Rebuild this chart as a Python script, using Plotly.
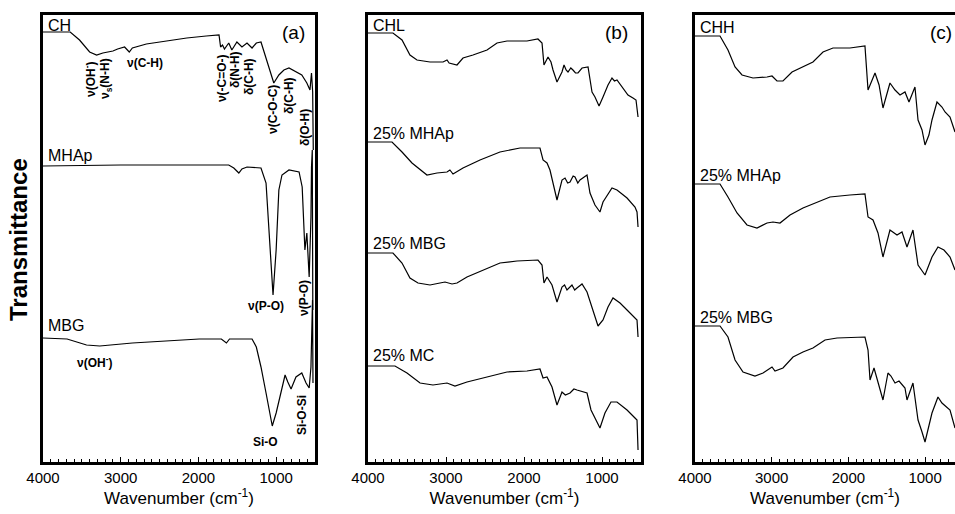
import plotly.graph_objects as go

# ---------------- data (wavenumber in cm-1, transmittance in a.u., stacked) -------------
# Panel (a)
ch_wn = [4000, 3650, 3530, 3400, 3310, 3230, 3100, 3040, 2950, 2890, 2850, 2670, 2410, 2150, 1900,
         1735, 1715, 1690, 1665, 1610, 1570, 1505, 1440, 1375, 1310, 1255, 1195, 1155, 1090, 1030,
         965, 900, 835, 745, 670, 605, 565, 545, 530, 522]
ch_t = [430, 430, 422, 410, 407, 409, 411, 413, 415, 410, 414, 418, 421, 424, 426,
        427, 415, 417, 413, 419, 412, 420, 415, 419, 414, 419, 420, 410, 392, 379,
        387, 392, 394, 390, 387, 379, 372, 389, 370, 312]

mhap_wn = [4000, 3000, 2000, 1610, 1545, 1480, 1440, 1375, 1195, 1130, 1090, 1040, 1000, 965, 925,
           835, 705, 665, 630, 605, 575, 552, 545, 535, 528]
mhap_t = [296, 297, 297, 297, 294, 289, 293, 295, 294, 279, 229, 167, 212, 272, 287,
          292, 290, 275, 212, 229, 185, 245, 295, 312, 152]

mbg_wn = [4000, 3690, 3440, 3270, 2850, 2410, 1990, 1705, 1640, 1600, 1310, 1255, 1195, 1130, 1065,
          1050, 1000, 935, 885, 850, 808, 745, 670, 615, 575, 552, 540, 532, 526]
mbg_t = [124, 123, 117, 116, 119, 121, 123, 123, 119, 123, 123, 115, 95, 69, 39,
         36, 49, 72, 87, 80, 73, 85, 89, 79, 74, 95, 135, 162, 79]

# Panel (b)
chl_wn = [4000, 3680, 3564, 3462, 3372, 3205, 3038, 2987, 2960, 2923, 2859, 2782, 2654, 2474, 2346, 2218,
          1962, 1821, 1769, 1744, 1692, 1654, 1628, 1577, 1513, 1487, 1460, 1436, 1400, 1372, 1340, 1308,
          1256, 1179, 1150, 1128, 1090, 1038, 987, 923, 872, 840, 808, 744, 667, 603, 564, 538]
chl_t = [429, 429, 422, 407, 402, 400, 400, 402, 399, 398, 397, 404, 407, 412, 419, 421,
         421, 423, 419, 397, 405, 400, 392, 380, 390, 397, 392, 390, 394, 392, 389, 389,
         394, 395, 378, 370, 365, 356, 365, 377, 384, 381, 382, 375, 367, 364, 362, 345]

b_mhap_wn = [4000, 3692, 3564, 3436, 3244, 3115, 2987, 2950, 2910, 2782, 2564, 2308, 2051, 1795, 1756, 1705,
             1667, 1603, 1577, 1513, 1474, 1440, 1410, 1370, 1346, 1310, 1282, 1192, 1154, 1090, 1026, 987,
             872, 808, 679, 577, 551, 538]
b_mhap_t = [320, 320, 310, 299, 287, 289, 290, 292, 288, 294, 302, 310, 314, 314, 302, 299,
            292, 269, 262, 282, 284, 279, 280, 286, 285, 279, 282, 287, 269, 257, 250, 260,
            274, 272, 264, 255, 250, 235]

b_mbg_wn = [4000, 3680, 3564, 3462, 3359, 3205, 3077, 3013, 2923, 2859, 2731, 2526, 2308, 2090, 1821,
            1769, 1744, 1705, 1641, 1577, 1513, 1480, 1449, 1385, 1350, 1321, 1256, 1192, 1128, 1090,
            1051, 987, 923, 859, 769, 679, 577, 551, 538]
b_mbg_t = [209, 209, 199, 184, 179, 177, 179, 180, 178, 179, 185, 192, 199, 201, 202,
           197, 179, 185, 177, 160, 175, 177, 172, 177, 172, 174, 178, 170, 154, 147,
           136, 142, 155, 164, 159, 152, 144, 142, 125]

b_mc_wn = [4000, 3654, 3500, 3333, 3167, 2987, 2885, 2731, 2474, 2218, 1962, 1795, 1756, 1705, 1641,
           1577, 1513, 1470, 1410, 1360, 1321, 1192, 1141, 1064, 1026, 962, 885, 808, 679, 577, 551, 538]
b_mc_t = [96, 96, 89, 79, 77, 79, 76, 80, 85, 90, 91, 93, 84, 85, 75,
          57, 70, 67, 69, 73, 72, 69, 52, 39, 34, 49, 60, 60, 52, 44, 42, 12]

# Panel (c)
chh_wn = [4000, 3674, 3570, 3478, 3387, 3244, 3061, 2996, 2931, 2853, 2735, 2592, 2462, 2331, 2201,
          1980, 1784, 1744, 1653, 1600, 1549, 1458, 1392, 1327, 1262, 1210, 1132, 1092, 1040, 1001,
          950, 910, 845, 780, 740, 675, 610]
chh_t = [426, 426, 412, 395, 387, 384, 385, 386, 381, 381, 390, 395, 400, 410, 414,
         414, 416, 372, 389, 377, 354, 379, 372, 367, 370, 360, 375, 342, 332, 317,
         327, 342, 360, 355, 350, 345, 330]

c_mhap_wn = [4000, 3674, 3570, 3452, 3322, 3192, 3061, 2983, 2892, 2761, 2592, 2409, 2240, 1980, 1784,
             1744, 1679, 1614, 1549, 1458, 1366, 1301, 1236, 1158, 1092, 1001, 910, 832, 754, 675, 610]
c_mhap_t = [278, 278, 265, 249, 237, 234, 239, 240, 239, 247, 254, 260, 265, 267, 268,
            245, 242, 229, 205, 232, 227, 230, 215, 232, 197, 187, 205, 215, 212, 205, 192]

c_mbg_wn = [4000, 3674, 3570, 3478, 3374, 3218, 3113, 2996, 2957, 2853, 2722, 2592, 2462, 2305, 2148,
            1784, 1744, 1718, 1666, 1614, 1549, 1484, 1445, 1392, 1340, 1262, 1236, 1158, 1092, 1040,
            1001, 910, 832, 780, 675, 610]
c_mbg_t = [136, 136, 125, 102, 90, 86, 89, 95, 91, 94, 105, 110, 114, 122, 124,
           125, 112, 82, 94, 80, 62, 89, 86, 79, 81, 74, 62, 79, 42, 30,
           20, 49, 65, 59, 52, 34]

tick_vals = [4000, 3000, 2000, 1000]
tick_text = ["4000", "3000", "2000", "1000"]

# ---------------- figure -------------------------------------------------------------
W, H = 955, 514
FONT = "Arial, Liberation Sans, sans-serif"
fig = go.Figure()

panels = [
    ("x", "y", [(ch_wn, ch_t), (mhap_wn, mhap_t), (mbg_wn, mbg_t)]),
    ("x2", "y2", [(chl_wn, chl_t), (b_mhap_wn, b_mhap_t), (b_mbg_wn, b_mbg_t), (b_mc_wn, b_mc_t)]),
    ("x3", "y3", [(chh_wn, chh_t), (c_mhap_wn, c_mhap_t), (c_mbg_wn, c_mbg_t)]),
]
for xa, ya, series in panels:
    for wn, t in series:
        fig.add_trace(go.Scatter(x=wn, y=t, xaxis=xa, yaxis=ya, mode="lines",
                                 line=dict(color="black", width=1.2), showlegend=False,
                                 hoverinfo="skip"))

def px(v):
    return v / W

top_y = 1 - 15 / H
bot_y = 1 - 462 / H
domains = [(px(43), px(315)), (px(368), px(641)), (px(695), 1.0)]
xranges = [[4000, 500], [4000, 500], [4000, 610]]

axis_common = dict(showline=True, linecolor="black", linewidth=2.5, mirror=True,
                   ticks="inside", ticklen=5, tickwidth=1.2, tickcolor="black",
                   tickvals=tick_vals, ticktext=tick_text, showgrid=False, zeroline=False,
                   automargin=False,
                   tickfont=dict(family=FONT, size=15, color="black"),
                   minor=dict(ticks="inside", ticklen=3, tickwidth=1, tickcolor="black", dtick=100,
                              showgrid=False),
                   title=dict(text="Wavenumber (cm<sup>-1</sup>)",
                              font=dict(family=FONT, size=17, color="black"), standoff=2))

layout = dict(width=W, height=H, margin=dict(l=0, r=0, t=0, b=0, pad=0, autoexpand=False),
              paper_bgcolor="white", plot_bgcolor="white", showlegend=False)
for i, (dom, rng) in enumerate(zip(domains, xranges)):
    suffix = "" if i == 0 else str(i + 1)
    xa = dict(axis_common, domain=list(dom), range=rng, anchor="y" + suffix)
    ya = dict(domain=[bot_y, top_y], range=[0, 447], showline=True, linecolor="black",
              linewidth=2.5, mirror=(i < 2), showticklabels=False, ticks="", showgrid=False,
              zeroline=False, automargin=False, anchor="x" + suffix)
    layout["xaxis" + suffix] = xa
    layout["yaxis" + suffix] = ya
fig.update_layout(**layout)

ann = []
def label(xref, x, y, text, size=16, **kw):
    ann.append(dict(xref=xref, yref=xref.replace("x", "y"), x=x, y=y, text=text, showarrow=False,
                    xanchor="left", yanchor="middle",
                    font=dict(family=FONT, size=size, color="black"), **kw))

# series labels
label("x", 3965, 437, "CH")
label("x", 3965, 307, "MHAp")
label("x", 3965, 137, "MBG")
label("x2", 3965, 437, "CHL")
label("x2", 3965, 329, "25% MHAp")
label("x2", 3965, 219, "25% MBG")
label("x2", 3965, 107, "25% MC")
label("x3", 3965, 435, "CHH")
label("x3", 3965, 287, "25% MHAp")
label("x3", 3965, 145, "25% MBG")

# panel letters
for xr, xv, letter in [("x", 782, "a"), ("x2", 808, "b"), ("x3", 793, "c")]:
    ann.append(dict(xref=xr, yref=xr.replace("x", "y"), x=xv, y=430, text="(" + letter + ")",
                    showarrow=False, xanchor="center", yanchor="middle",
                    font=dict(family=FONT, size=19, color="black")))

# band assignments in panel (a)
def band(x, y, text, rot=False):
    ann.append(dict(xref="x", yref="y", x=x, y=y, text="<b>" + text + "</b>", showarrow=False,
                    xanchor="center", yanchor="middle", textangle=-90 if rot else 0,
                    font=dict(family=FONT, size=12, color="black")))

band(3395, 382, "ν(OH<sup>-</sup>)", rot=True)
band(3189, 383, "ν<sub>s</sub>(N-H)", rot=True)
band(2687, 399, "ν(C-H)")
band(1696, 384, "ν(-C=O-)", rot=True)
band(1529, 392, "δ(N-H)", rot=True)
band(1349, 385, "δ(C-H)", rot=True)
band(1040, 352, "ν(C-O-C)", rot=True)
band(834, 366, "δ(C-H)", rot=True)
band(628, 334, "δ(O-H)", rot=True)
band(1130, 156, "ν(P-O)")
band(641, 164, "ν(P-O)", rot=True)
band(3331, 100, "ν(OH<sup>-</sup>)")
band(1143, 20, "Si-O")
band(667, 47, "Si-O-Si", rot=True)

# y title
ann.append(dict(xref="paper", yref="paper", x=18 / W, y=1 - 240 / H, text="<b>Transmittance</b>",
                showarrow=False, textangle=-90, xanchor="center", yanchor="middle",
                font=dict(family=FONT, size=24, color="black")))

fig.update_layout(annotations=ann)
fig.write_html("out.html")
